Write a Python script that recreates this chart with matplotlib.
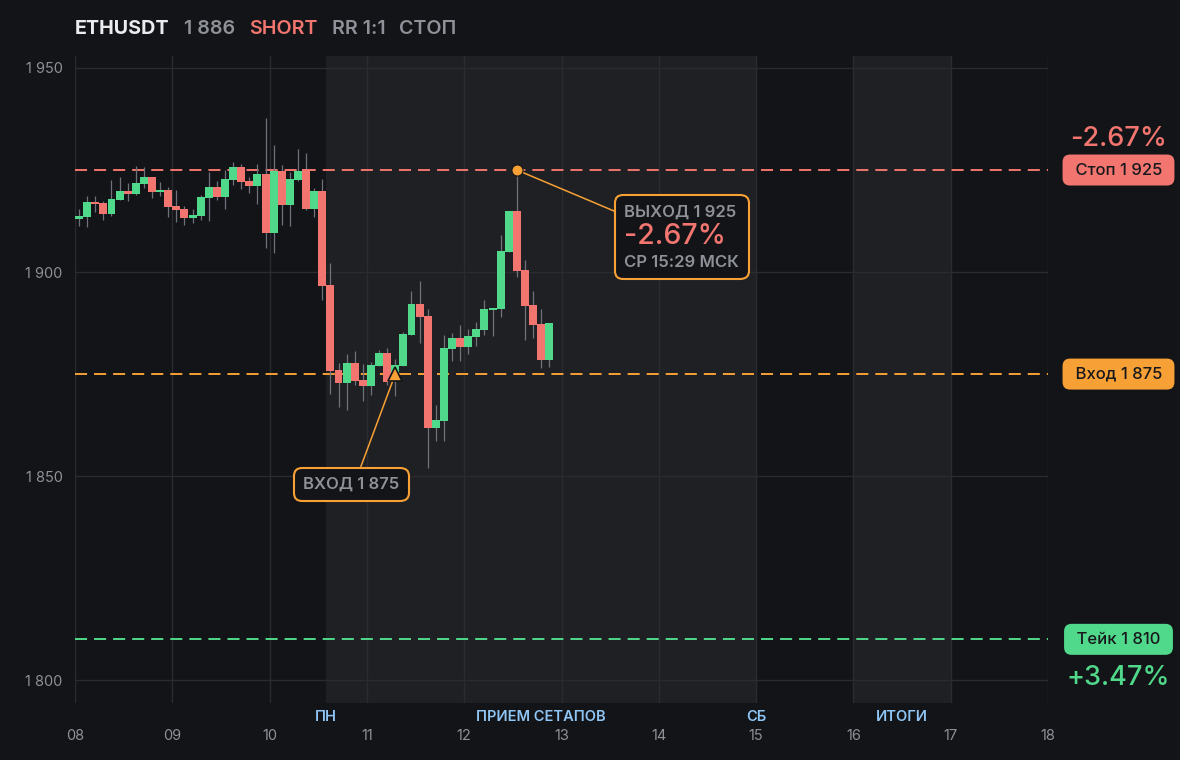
import numpy as np
import matplotlib
matplotlib.use("Agg")
import matplotlib.pyplot as plt
from matplotlib.transforms import blended_transform_factory
from matplotlib.offsetbox import TextArea, VPacker, AnnotationBbox
from matplotlib.ticker import FuncFormatter

# ---------------- data ----------------
symbol = "ETHUSDT"
last_price = "1 886"
side = "SHORT"
rr_text = "RR 1:1"
result_text = "СТОП"

candle_start_day = 8.0      # first candle opens on day 08
candle_hours = 2            # 2h candles

opens = [1913.1, 1913.6, 1917.2, 1916.9, 1914.3, 1917.7, 1919.9, 1919.2, 1921.6, 1923.3,
         1919.6, 1920.1, 1916.2, 1915.4, 1913.3, 1913.8, 1918.2, 1920.8, 1918.5, 1922.5,
         1925.7, 1922.3, 1921.2, 1924.0, 1909.6, 1924.8, 1916.5, 1922.6, 1925.2, 1915.5,
         1919.9, 1896.8, 1876.0, 1872.9, 1877.7, 1873.5, 1872.1, 1877.0, 1880.1, 1873.5,
         1877.0, 1884.6, 1892.2, 1889.2, 1861.8, 1863.6, 1881.2, 1883.8, 1881.7, 1884.1,
         1885.9, 1890.8, 1891.0, 1905.0, 1915.0, 1900.5, 1891.9, 1887.3, 1878.5]
highs = [1915.4, 1918.6, 1918.6, 1917.4, 1922.5, 1923.3, 1921.8, 1926.0, 1925.7, 1923.3,
         1922.1, 1920.8, 1920.1, 1916.2, 1915.4, 1918.9, 1924.5, 1922.3, 1925.0, 1927.0,
         1926.5, 1923.3, 1926.5, 1937.7, 1931.1, 1926.2, 1924.5, 1930.1, 1929.2, 1920.6,
         1922.8, 1902.2, 1877.7, 1879.9, 1880.6, 1877.5, 1877.9, 1880.9, 1881.4, 1878.7,
         1885.3, 1895.3, 1897.8, 1890.9, 1867.4, 1884.6, 1885.0, 1887.0, 1886.0, 1887.7,
         1893.1, 1891.2, 1909.1, 1915.0, 1925.0, 1902.9, 1895.3, 1890.9, 1887.5]
lows = [1911.4, 1911.1, 1914.8, 1912.8, 1913.8, 1917.6, 1917.5, 1919.0, 1920.7, 1918.2,
        1918.6, 1913.6, 1912.3, 1911.6, 1912.1, 1912.8, 1912.6, 1917.6, 1915.5, 1921.4,
        1920.4, 1919.4, 1916.7, 1906.0, 1904.7, 1911.6, 1911.3, 1922.3, 1915.3, 1913.6,
        1893.1, 1870.1, 1867.0, 1866.2, 1872.3, 1868.5, 1869.9, 1877.0, 1872.3, 1869.6,
        1877.0, 1884.6, 1882.7, 1852.0, 1858.7, 1858.7, 1878.3, 1878.1, 1880.0, 1881.9,
        1884.6, 1884.4, 1889.0, 1905.0, 1898.8, 1883.4, 1883.9, 1876.5, 1876.8]
closes = [1913.7, 1917.2, 1916.7, 1914.3, 1917.9, 1919.9, 1919.2, 1921.8, 1923.3, 1919.7,
          1920.1, 1916.0, 1915.3, 1913.3, 1913.9, 1918.4, 1920.8, 1918.5, 1922.8, 1925.7,
          1922.1, 1921.2, 1924.0, 1909.6, 1924.8, 1916.5, 1922.8, 1924.8, 1915.5, 1919.9,
          1896.6, 1875.8, 1872.9, 1877.7, 1873.4, 1872.1, 1877.2, 1880.1, 1873.1, 1877.2,
          1884.8, 1892.2, 1889.0, 1861.8, 1863.7, 1881.4, 1883.8, 1881.7, 1884.3, 1886.0,
          1890.9, 1891.2, 1905.1, 1915.0, 1900.3, 1891.7, 1887.1, 1878.5, 1887.5]

stop_price = 1925
entry_price = 1875
take_price = 1810
stop_pct = "-2.67%"
take_pct = "+3.47%"
entry_index = 39
exit_index = 54
exit_time_text = "СР 15:29 МСК"

session_spans = [(10 + 7 / 12, 15.0), (16.0, 17.0)]
session_labels = ["ПН", "ПРИЕМ СЕТАПОВ", "СБ", "ИТОГИ"]
session_label_x = [10 + 7 / 12, (10 + 7 / 12 + 15.0) / 2, 15.0, 16.5]

day_ticks = list(range(8, 19))
day_labels = ["08", "09", "10", "11", "12", "13", "14", "15", "16", "17", "18"]
price_ticks = [1800, 1850, 1900, 1950]

# ---------------- style ----------------
BG = "#131418"
SHADE = "#1f2024"
GRID = "#2a2b30"
GREEN = "#50d98b"
RED = "#f2766f"
ORANGE = "#f7a035"
BLUE = "#8fc6f5"
GREY = "#8e9197"
WHITE = "#ececee"
WICK = "#6f727a"
DARK = "#17181c"


def fmt_price(v):
    v = int(round(v))
    return f"{v // 1000} {v % 1000:03d}"


plt.rcParams["font.family"] = ["Inter", "DejaVu Sans"]

fig = plt.figure(figsize=(11.8, 7.6), dpi=100, facecolor=BG)
W, H = 1180, 760
ax = fig.add_axes([75 / W, (H - 703) / H, (1048 - 75) / W, (703 - 56) / H])
ax.set_facecolor(BG)
ax.set_xlim(8, 18)
ax.set_ylim(1794.4, 1952.94)
for s in ax.spines.values():
    s.set_visible(False)

# sessions
for a, b in session_spans:
    ax.axvspan(a, b, color=SHADE, zorder=0, lw=0)

# grid
ax.set_xticks(day_ticks)
ax.set_xticklabels(day_labels)
ax.set_yticks(price_ticks)
ax.yaxis.set_major_formatter(FuncFormatter(lambda v, p: fmt_price(v)))
ax.grid(True, color=GRID, lw=1.0, zorder=1)
ax.set_axisbelow(True)
ax.tick_params(axis="both", length=0, colors=GREY, labelsize=10.5)
ax.tick_params(axis="x", pad=19)
ax.tick_params(axis="y", pad=9)

# candles
o = np.array(opens); h = np.array(highs); l = np.array(lows); c = np.array(closes)
t = candle_start_day + (np.arange(len(o)) + 0.5) * candle_hours / 24
up = c >= o
ax.vlines(t, l, h, color=WICK, lw=0.9, zorder=3)
body_w = 0.98 * candle_hours / 24
bottoms = np.minimum(o, c)
heights = np.maximum(np.abs(c - o), 0.45)
ax.bar(t, heights, bottom=bottoms, width=body_w, color=np.where(up, GREEN, RED), lw=0, zorder=4)

# levels
dash = (0, (6.2, 3.6))
ax.axhline(stop_price, color=RED, lw=1.4, ls=dash, zorder=2)
ax.axhline(entry_price, color=ORANGE, lw=1.4, ls=dash, zorder=2)
ax.axhline(take_price, color=GREEN, lw=1.4, ls=dash, zorder=2)

# right badges
bl = blended_transform_factory(fig.transFigure, ax.transData)
bx = 1118.5 / W
for price, col, lab in [(stop_price, RED, "Стоп"), (entry_price, ORANGE, "Вход"), (take_price, GREEN, "Тейк")]:
    ax.text(bx, price, f" {lab} {fmt_price(price)} ", transform=bl,
            ha="center", va="center", fontsize=12, fontweight="medium", color=DARK, clip_on=False,
            bbox=dict(boxstyle="round,pad=0.48,rounding_size=0.45", fc=col, ec="none"))
ax.annotate(stop_pct, xy=(bx, stop_price), xycoords=bl, xytext=(0, 22), textcoords="offset points",
            ha="center", va="center", fontsize=19.5, fontweight="medium", color=RED, annotation_clip=False)
ax.annotate(take_pct, xy=(bx, take_price), xycoords=bl, xytext=(0, -27.5), textcoords="offset points",
            ha="center", va="center", fontsize=19.5, fontweight="medium", color=GREEN, annotation_clip=False)

# entry marker + box
ax.plot([t[entry_index]], [entry_price], marker="^", ms=10, color=ORANGE, mec=BG, mew=1.2, zorder=8, ls="none")
ta = TextArea(f"ВХОД {fmt_price(entry_price)}",
              textprops=dict(color=GREY, fontsize=12, fontweight="semibold"))
ab = AnnotationBbox(ta, (t[entry_index], entry_price), xybox=(-31.7, -79.5), xycoords="data",
                    boxcoords="offset points", box_alignment=(0.5, 0.5),
                    bboxprops=dict(boxstyle="round,pad=0.68,rounding_size=0.6", fc=BG, ec=ORANGE, lw=1.5),
                    arrowprops=dict(arrowstyle="-", color=ORANGE, lw=1.1, shrinkA=0, shrinkB=0, relpos=(0.56, 1.0)),
                    zorder=7)
ax.add_artist(ab)

# exit marker + box
ax.plot([t[exit_index]], [stop_price], marker="o", ms=8, color=ORANGE, mec=BG, mew=0.8, zorder=8, ls="none")
t1 = TextArea(f"ВЫХОД {fmt_price(stop_price)}",
              textprops=dict(color=GREY, fontsize=12, fontweight="semibold"))
t2 = TextArea(stop_pct, textprops=dict(color=RED, fontsize=20.5, fontweight="medium"))
t3 = TextArea(exit_time_text, textprops=dict(color=GREY, fontsize=12, fontweight="semibold"))
pack = VPacker(children=[t1, t2, t3], align="left", pad=0, sep=3)
ab2 = AnnotationBbox(pack, (t[exit_index], stop_price), xybox=(118.8, -48.2), xycoords="data",
                     boxcoords="offset points", box_alignment=(0.5, 0.5),
                     bboxprops=dict(boxstyle="round,pad=0.68,rounding_size=0.6", fc=BG, ec=ORANGE, lw=1.5),
                     arrowprops=dict(arrowstyle="-", color=ORANGE, lw=1.1, shrinkA=0, shrinkB=0, relpos=(0.0, 0.83)),
                     zorder=7)
ax.add_artist(ab2)

# session labels under the axis
sl = blended_transform_factory(ax.transData, fig.transFigure)
for x, lab in zip(session_label_x, session_labels):
    ax.text(x, 1 - 717 / H, lab, transform=sl, ha="center", va="center", fontsize=10.5,
            fontweight="semibold", color=BLUE, clip_on=False)

# title line
ty = 1 - 29 / H
txt = fig.text(75 / W, ty, symbol, ha="left", va="center", fontsize=14.2, fontweight="bold", color=WHITE)
parts = [(last_price, GREY), (side, RED), (rr_text, GREY), (result_text, GREY)]
prev = txt
for s, col in parts:
    prev = ax.annotate(s, xy=(1, 0.5), xycoords=prev, xytext=(10.2, 0), textcoords="offset points",
                       ha="left", va="center", fontsize=14.2, fontweight="semibold", color=col,
                       annotation_clip=False)

fig.savefig("out.png", dpi=100, facecolor=BG)
